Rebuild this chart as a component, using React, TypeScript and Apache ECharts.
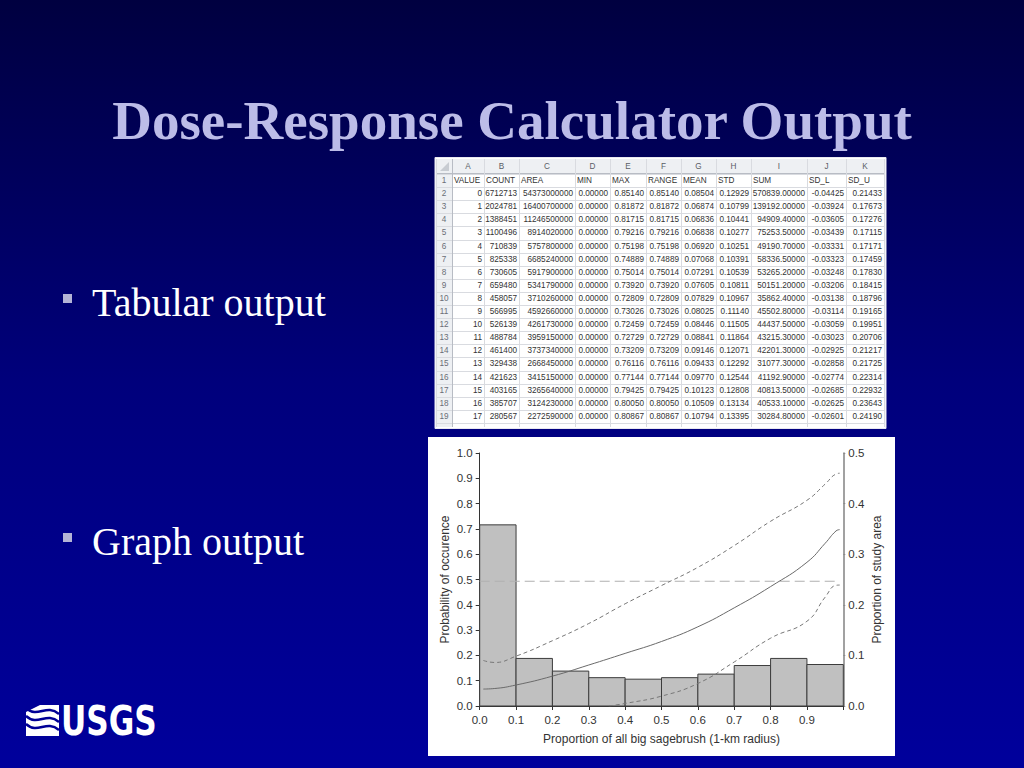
import React, { useEffect, useRef } from "react";
import * as echarts from "echarts";

// ---------- slide texts ----------
const TITLE = "Dose-Response Calculator Output";
const BULLETS = ["Tabular output", "Graph output"];

// ---------- table data ----------
const TABLE_LETTERS = ["A", "B", "C", "D", "E", "F", "G", "H", "I", "J", "K"];
const TABLE_HEADERS = ["VALUE", "COUNT", "AREA", "MIN", "MAX", "RANGE", "MEAN", "STD", "SUM", "SD_L", "SD_U"];
const VALUE = ["0", "1", "2", "3", "4", "5", "6", "7", "8", "9", "10", "11", "12", "13", "14", "15", "16", "17"];
const COUNT = ["6712713", "2024781", "1388451", "1100496", "710839", "825338", "730605", "659480", "458057", "566995", "526139", "488784", "461400", "329438", "421623", "403165", "385707", "280567"];
const AREA = ["54373000000", "16400700000", "11246500000", "8914020000", "5757800000", "6685240000", "5917900000", "5341790000", "3710260000", "4592660000", "4261730000", "3959150000", "3737340000", "2668450000", "3415150000", "3265640000", "3124230000", "2272590000"];
const MIN = ["0.00000", "0.00000", "0.00000", "0.00000", "0.00000", "0.00000", "0.00000", "0.00000", "0.00000", "0.00000", "0.00000", "0.00000", "0.00000", "0.00000", "0.00000", "0.00000", "0.00000", "0.00000"];
const MAX = ["0.85140", "0.81872", "0.81715", "0.79216", "0.75198", "0.74889", "0.75014", "0.73920", "0.72809", "0.73026", "0.72459", "0.72729", "0.73209", "0.76116", "0.77144", "0.79425", "0.80050", "0.80867"];
const RANGE = ["0.85140", "0.81872", "0.81715", "0.79216", "0.75198", "0.74889", "0.75014", "0.73920", "0.72809", "0.73026", "0.72459", "0.72729", "0.73209", "0.76116", "0.77144", "0.79425", "0.80050", "0.80867"];
const MEAN = ["0.08504", "0.06874", "0.06836", "0.06838", "0.06920", "0.07068", "0.07291", "0.07605", "0.07829", "0.08025", "0.08446", "0.08841", "0.09146", "0.09433", "0.09770", "0.10123", "0.10509", "0.10794"];
const STD = ["0.12929", "0.10799", "0.10441", "0.10277", "0.10251", "0.10391", "0.10539", "0.10811", "0.10967", "0.11140", "0.11505", "0.11864", "0.12071", "0.12292", "0.12544", "0.12808", "0.13134", "0.13395"];
const SUM = ["570839.00000", "139192.00000", "94909.40000", "75253.50000", "49190.70000", "58336.50000", "53265.20000", "50151.20000", "35862.40000", "45502.80000", "44437.50000", "43215.30000", "42201.30000", "31077.30000", "41192.90000", "40813.50000", "40533.10000", "30284.80000"];
const SD_L = ["-0.04425", "-0.03924", "-0.03605", "-0.03439", "-0.03331", "-0.03323", "-0.03248", "-0.03206", "-0.03138", "-0.03114", "-0.03059", "-0.03023", "-0.02925", "-0.02858", "-0.02774", "-0.02685", "-0.02625", "-0.02601"];
const SD_U = ["0.21433", "0.17673", "0.17276", "0.17115", "0.17171", "0.17459", "0.17830", "0.18415", "0.18796", "0.19165", "0.19951", "0.20706", "0.21217", "0.21725", "0.22314", "0.22932", "0.23643", "0.24190"];

// ---------- graph data ----------
const BIN_START = [0.0, 0.1, 0.2, 0.3, 0.4, 0.5, 0.6, 0.7, 0.8, 0.9];
const BIN_END = [0.1, 0.2, 0.3, 0.4, 0.5, 0.6, 0.7, 0.8, 0.9, 1.0];
const STUDY_AREA = [0.358, 0.094, 0.069, 0.056, 0.053, 0.056, 0.063, 0.080, 0.094, 0.082];

const MEAN_X = [0.01, 0.04, 0.1, 0.2, 0.3, 0.4, 0.5, 0.6, 0.7, 0.8, 0.9, 0.95, 0.98, 0.99];
const MEAN_Y = [0.067, 0.069, 0.083, 0.118, 0.162, 0.208, 0.255, 0.313, 0.388, 0.472, 0.568, 0.643, 0.692, 0.697];

const UPPER_X = [0.01, 0.04, 0.1, 0.2, 0.3, 0.4, 0.5, 0.6, 0.7, 0.8, 0.9, 0.95, 0.98, 0.99];
const UPPER_Y = [0.18, 0.172, 0.197, 0.258, 0.326, 0.404, 0.476, 0.548, 0.634, 0.73, 0.813, 0.877, 0.917, 0.92];

const LOWER_X = [0.355, 0.4, 0.5, 0.6, 0.7, 0.8, 0.9, 0.95, 0.98, 0.99];
const LOWER_Y = [0.0, 0.01, 0.039, 0.089, 0.174, 0.268, 0.335, 0.43, 0.477, 0.478];

const PREVALENCE_X = [0.0, 0.99];
const PREVALENCE_Y = [0.493, 0.493];

const X_NAME = "Proportion of all big sagebrush (1-km radius)";
const Y_LEFT_NAME = "Probability of occurence";
const Y_RIGHT_NAME = "Proportion of study area";

function zip(xs: number[], ys: number[]) {
  return xs.map((x, i) => [x, ys[i]]);
}

function buildTable(): any[] {
  const els: any[] = [];
  const colEdges = [436, 452, 484, 519, 575, 610, 646, 681, 716, 751, 807, 846, 884];
  const top = 159;
  const headH = 15;
  const rowH = 13.1;
  const bodyTop = top + headH;
  const nRows = 19;
  const bottom = 427;
  const font = "8.2px 'Liberation Sans', Arial, sans-serif";
  const columns = [VALUE, COUNT, AREA, MIN, MAX, RANGE, MEAN, STD, SUM, SD_L, SD_U];

  els.push({ type: "rect", z: -10, shape: { x: 435, y: 157.5, width: 451, height: 271 }, style: { fill: "#ffffff", stroke: "#e8e8f0", lineWidth: 1 } });
  els.push({ type: "rect", z: -9, shape: { x: 436, y: top, width: 448, height: headH }, style: { fill: "#eef0f3" } });
  els.push({ type: "rect", z: -9, shape: { x: 436, y: top, width: 16, height: bottom - top }, style: { fill: "#eef0f3" } });
  for (let r = 0; r <= nRows; r++) {
    const y = Math.round(bodyTop + r * rowH) + 0.5;
    els.push({ type: "line", z: -8, shape: { x1: 436, y1: y, x2: 884, y2: y }, style: { stroke: "#d9dbe0", lineWidth: 1 } });
  }
  els.push({ type: "line", z: -8, shape: { x1: 436, y1: bodyTop - 0.5, x2: 884, y2: bodyTop - 0.5 }, style: { stroke: "#b8bcc4", lineWidth: 1 } });
  colEdges.forEach((x, i) => {
    els.push({ type: "line", z: -8, shape: { x1: x + 0.5, y1: top, x2: x + 0.5, y2: bottom }, style: { stroke: i === 1 ? "#b8bcc4" : "#d9dbe0", lineWidth: 1 } });
  });
  els.push({ type: "polygon", z: -7, shape: { points: [[449, 162], [449, 171], [440, 171]] }, style: { fill: "#c8ccd2" } });
  TABLE_LETTERS.forEach((l, i) => {
    const cx = (colEdges[i + 1] + colEdges[i + 2]) / 2;
    els.push({ type: "text", z: -6, x: cx, y: top + headH / 2, style: { text: l, font, fill: "#5a5e66", align: "center", verticalAlign: "middle" } });
  });
  for (let r = 0; r < nRows; r++) {
    els.push({ type: "text", z: -6, x: 444, y: bodyTop + r * rowH + rowH / 2, style: { text: String(r + 1), font, fill: "#6a6e76", align: "center", verticalAlign: "middle" } });
  }
  TABLE_HEADERS.forEach((h, i) => {
    const x = colEdges[i + 1] + 2;
    els.push({ type: "text", z: -6, x, y: bodyTop + rowH / 2, style: { text: h, font, fill: "#333333", align: "left", verticalAlign: "middle" } });
  });
  columns.forEach((col, ci) => {
    const xr = colEdges[ci + 2] - 2;
    col.forEach((v, ri) => {
      els.push({ type: "text", z: -6, x: xr, y: bodyTop + (ri + 1) * rowH + rowH / 2, style: { text: v, font, fill: "#333333", align: "right", verticalAlign: "middle" } });
    });
  });
  return els;
}

function buildSlide(): any[] {
  const els: any[] = [];
  els.push({
    type: "rect", z: -100, shape: { x: 0, y: 0, width: 1024, height: 768 },
    style: { fill: new echarts.graphic.LinearGradient(0, 0, 0, 1, [{ offset: 0, color: "#000040" }, { offset: 0.5, color: "#00007c" }, { offset: 1, color: "#00009c" }]) },
  });
  els.push({ type: "text", z: -5, x: 512, y: 120, style: { text: TITLE, font: "bold 55px 'Liberation Serif', 'Times New Roman', serif", fill: "#bcbce8", align: "center", verticalAlign: "middle" } });
  const bulletY = [302, 541];
  BULLETS.forEach((b, i) => {
    els.push({ type: "rect", z: -5, shape: { x: 63, y: bulletY[i] - 8, width: 9, height: 9 }, style: { fill: "#b4b4d6" } });
    els.push({ type: "text", z: -5, x: 92, y: bulletY[i], style: { text: b, font: "40px 'Liberation Serif', 'Times New Roman', serif", fill: "#ffffff", align: "left", verticalAlign: "middle" } });
  });
  els.push({ type: "rect", z: -50, shape: { x: 428, y: 437, width: 467, height: 319 }, style: { fill: "#ffffff" } });
  // USGS logo
  els.push({ type: "rect", z: -5, shape: { x: 26, y: 705, width: 33, height: 31 }, style: { fill: "#ffffff" } });
  const waves = [711, 719, 727];
  waves.forEach((wy) => {
    els.push({ type: "bezierCurve", z: -4, shape: { x1: 26, y1: wy - 3, x2: 59, y2: wy + 3, cpx1: 38, cpy1: wy + 8, cpx2: 46, cpy2: wy - 8 }, style: { stroke: "#000096", lineWidth: 2.4, fill: null } });
  });
  els.push({ type: "polygon", z: -4, shape: { points: [[26, 705], [40, 705], [26, 712]] }, style: { fill: "#000096" } });
  els.push({ type: "text", z: -5, x: 61, y: 721, scaleX: 0.76, style: { text: "USGS", font: "bold 41px 'DejaVu Sans', sans-serif", fill: "#ffffff", align: "left", verticalAlign: "middle" } });
  return els;
}

export default function App() {
  const ref = useRef<HTMLDivElement>(null);
  useEffect(() => {
    if (!ref.current) return;
    const chart = echarts.init(ref.current, null, { renderer: "svg" });
    const axisFont = { fontFamily: "'Liberation Sans', Arial, sans-serif", fontSize: 11.5, color: "#333333" };
    const nameFont = { fontFamily: "'Liberation Sans', Arial, sans-serif", fontSize: 12, color: "#333333" };
    const barData = BIN_START.map((s, i) => [s, BIN_END[i], STUDY_AREA[i]]);
    chart.setOption({
      animation: false,
      graphic: { elements: [...buildSlide(), ...buildTable()] },
      grid: { left: 479.7, right: 180.7, top: 453, bottom: 62, containLabel: false },
      xAxis: {
        type: "value", min: 0, max: 1, interval: 0.1,
        name: X_NAME, nameLocation: "middle", nameGap: 27, nameTextStyle: nameFont,
        axisLine: { show: true, lineStyle: { color: "#333333", width: 1 } },
        axisTick: { show: true, length: 4, lineStyle: { color: "#333333" } },
        axisLabel: { ...axisFont, margin: 8, formatter: (v: number) => (v > 0.95 ? "" : v.toFixed(1)) },
        splitLine: { show: false },
      },
      yAxis: [
        {
          type: "value", min: 0, max: 1, interval: 0.1, position: "left",
          name: Y_LEFT_NAME, nameLocation: "middle", nameGap: 29, nameRotate: 90, nameTextStyle: nameFont,
          axisLine: { show: true, lineStyle: { color: "#333333", width: 1 } },
          axisTick: { show: true, length: 4, lineStyle: { color: "#333333" } },
          axisLabel: { ...axisFont, margin: 7, formatter: (v: number) => v.toFixed(1) },
          splitLine: { show: false },
        },
        {
          type: "value", min: 0, max: 0.5, interval: 0.1, position: "right",
          name: Y_RIGHT_NAME, nameLocation: "middle", nameGap: 28, nameRotate: 90, nameTextStyle: nameFont,
          axisLine: { show: true, lineStyle: { color: "#8a8a8a", width: 1.6 } },
          axisTick: { show: true, length: 2, lineStyle: { color: "#8a8a8a" } },
          axisLabel: { ...axisFont, margin: 5, formatter: (v: number) => v.toFixed(1) },
          splitLine: { show: false },
        },
      ],
      series: [
        {
          type: "custom", yAxisIndex: 1, z: 2, data: barData,
          encode: { x: [0, 1], y: 2 },
          renderItem: (_p: any, api: any) => {
            const a = api.coord([api.value(0), api.value(2)]);
            const b = api.coord([api.value(1), 0]);
            return { type: "rect", shape: { x: a[0], y: a[1], width: b[0] - a[0], height: b[1] - a[1] }, style: { fill: "#c0c0c0", stroke: "#3c3c3c", lineWidth: 1 } };
          },
        },
        { type: "line", z: 4, data: zip(PREVALENCE_X, PREVALENCE_Y), showSymbol: false, lineStyle: { color: "#b0b0b0", width: 1.2, type: [10, 5] } },
        { type: "line", z: 5, data: zip(MEAN_X, MEAN_Y), smooth: 0.5, showSymbol: false, lineStyle: { color: "#6a6a6a", width: 1 } },
        { type: "line", z: 5, data: zip(UPPER_X, UPPER_Y), smooth: 0.5, showSymbol: false, lineStyle: { color: "#777777", width: 1, type: [4, 3] } },
        { type: "line", z: 5, data: zip(LOWER_X, LOWER_Y), smooth: 0.5, showSymbol: false, lineStyle: { color: "#777777", width: 1, type: [4, 3] } },
      ],
    });
    return () => chart.dispose();
  }, []);
  return <div ref={ref} style={{ position: "absolute", left: 0, top: 0, width: 1024, height: 768 }} />;
}
